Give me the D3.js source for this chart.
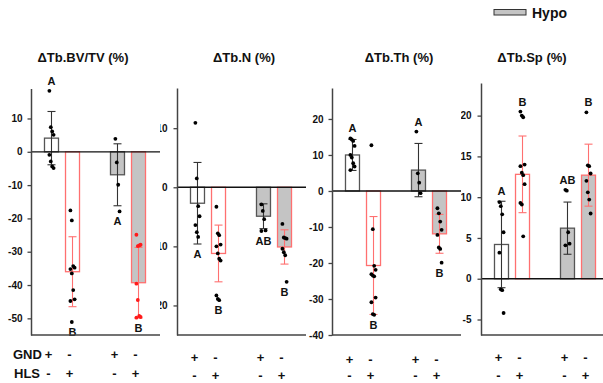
<!DOCTYPE html>
<html>
<head>
<meta charset="utf-8">
<script src="https://cdn.jsdelivr.net/npm/d3@7"></script>
<style>
  body { margin: 0; background: #fff; }
  svg { display: block; }
  text { font-family: "Liberation Sans", Arial, sans-serif; font-weight: bold; fill: #111; }
</style>
</head>
<body>
<script>
// groups: normoxia / hypoxia, each with GND+ and HLS
var oxygen = ["Normo", "Normo", "Hypo", "Hypo"];
var cond = ["GND", "HLS", "GND", "HLS"];
var gndSigns = ["+", "-", "+", "-"];
var hlsSigns = ["-", "+", "-", "+"];
var titles = ["\u0394Tb.BV/TV (%)", "\u0394Tb.N (%)", "\u0394Tb.Th (%)", "\u0394Tb.Sp (%)"];

// ΔTb.BV/TV
var bvtvMean = [4.1, -36.0, -6.9, -39.3];
var bvtvSd = [8.0, 10.5, 9.3, 10.6];
var bvtvPts = [
  [18.3, 7.4, 6.1, 5.1, -0.9, -2.9, -4.4, -4.9],
  [-17.6, -20.6, -34.3, -34.8, -35.2, -36.5, -41.5, -44.3, -44.8, -51.1],
  [3.9, -3.2, -9.9, -17.9],
  [-24.9, -28.3, -28.1, -27.9, -39.6, -44.5, -49.3, -49.6, -49.8]
];
var bvtvLetters = ["A", "B", "A", "B"];
var bvtvDomain = [-55, 19];
var bvtvTicks = [-50, -40, -30, -20, -10, 0, 10];

// ΔTb.N
var nMean = [-2.7, -11.2, -4.9, -10.1];
var nSd = [6.9, 4.8, 2.1, 2.9];
var nPts = [
  [10.9, 1.5, -3.2, -4.9, -6.4, -7.6, -8.4],
  [-3.3, -7.8, -8.1, -9.7, -10.0, -11.2, -12.1, -12.4, -18.3, -18.9, -19.1],
  [-2.9, -4.0, -5.4, -7.3, -7.4],
  [-6.2, -8.5, -8.6, -8.7, -10.4, -11.0, -11.5, -16.0]
];
var nLetters = ["A", "B", "AB", "B"];
var nDomain = [-25, 16.8];
var nTicks = [-20, -10, 0, 10];

// ΔTb.Th
var thMean = [10.0, -20.7, 5.8, -11.9];
var thSd = [4.3, 13.6, 7.4, 5.4];
var thPts = [
  [14.6, 14.3, 13.9, 12.5, 10.0, 9.3, 7.7, 6.8, 5.8],
  [12.7, -10.6, -20.8, -21.9, -23.1, -23.5, -23.7, -29.6, -30.9, -34.2, -34.4],
  [16.5, 4.9, 2.3, -0.6],
  [-4.8, -6.2, -8.5, -10.8, -12.2, -15.7, -16.1, -19.9]
];
var thLetters = ["A", "B", "A", "B"];
var thDomain = [-40, 28.6];
var thTicks = [-40, -30, -20, -10, 0, 10, 20];

// ΔTb.Sp
var spMean = [4.2, 12.8, 6.2, 12.7];
var spSd = [5.3, 4.7, 3.2, 3.8];
var spPts = [
  [9.4, 8.9, 7.9, 5.7, 3.2, -1.3, -1.4, -4.2],
  [20.5, 20.0, 19.8, 14.0, 13.8, 13.0, 12.7, 11.6, 9.3, 9.1, 5.2],
  [10.9, 10.8, 5.7, 4.3, 4.1],
  [20.4, 13.9, 13.8, 12.9, 12.0, 10.6, 9.7, 8.0]
];
var spLetters = ["A", "B", "AB", "B"];
var spDomain = [-6.9, 24];
var spTicks = [-5, 0, 5, 10, 15, 20];

var panels = [
  {mean: bvtvMean, sd: bvtvSd, pts: bvtvPts, letters: bvtvLetters, domain: bvtvDomain, ticks: bvtvTicks},
  {mean: nMean, sd: nSd, pts: nPts, letters: nLetters, domain: nDomain, ticks: nTicks},
  {mean: thMean, sd: thSd, pts: thPts, letters: thLetters, domain: thDomain, ticks: thTicks},
  {mean: spMean, sd: spSd, pts: spPts, letters: spLetters, domain: spDomain, ticks: spTicks}
];

// each panel is a cropped picture, the next one is pasted over the previous
var layout = [
  {axisX: 31, clipL: 0, clipR: 160, top: 88.5, pad: 5, titleX: 83, rowY: [354, 373]},
  {axisX: 177, clipL: 160, clipR: 306, top: 88, pad: 6, titleX: 244, rowY: [357, 375]},
  {axisX: 332, clipL: 306, clipR: 461, top: 88, pad: 5, titleX: 399, rowY: [359, 375]},
  {axisX: 481, clipL: 461, clipR: 603, top: 83, pad: 6, titleX: 532, rowY: [357, 375]}
];

var width = 603, height = 383, bottom = 335, barW = 14;
var red = "#ff7070", grayFill = "#c4c4c4";

var svg = d3.select("body").append("svg")
  .attr("width", width)
  .attr("height", height);

panels.forEach(function(p, k) {
  var L = layout[k];

  svg.append("clipPath").attr("id", "clip" + k)
    .append("rect")
    .attr("x", L.clipL).attr("y", 0)
    .attr("width", L.clipR - L.clipL).attr("height", height);

  var g = svg.append("g").attr("clip-path", "url(#clip" + k + ")");

  var y = d3.scaleLinear().domain(p.domain).range([bottom, L.top]);

  var outer = d3.scaleBand().domain(["Normo", "Hypo"])
    .range([L.axisX - 2, L.axisX + 130]);
  var inner = d3.scalePoint().domain(["GND", "HLS"])
    .range([0, outer.bandwidth()]).padding(1.07);
  var xc = function(i) { return outer(oxygen[i]) + inner(cond[i]); };

  // title
  g.append("text")
    .attr("x", L.titleX).attr("y", 62)
    .attr("text-anchor", "middle")
    .style("font-size", "13px")
    .text(titles[k]);

  // bars
  g.selectAll("rect.bar")
    .data(p.mean)
    .enter().append("rect")
    .attr("class", "bar")
    .attr("x", function(d, i) { return xc(i) - barW / 2; })
    .attr("width", barW)
    .attr("y", function(d) { return Math.min(y(0), y(d)); })
    .attr("height", function(d) { return Math.abs(y(d) - y(0)); })
    .attr("fill", function(d, i) { return oxygen[i] == "Hypo" ? grayFill : "#fff"; })
    .attr("stroke", function(d, i) { return cond[i] == "HLS" ? red : "#555"; })
    .attr("stroke-width", 1.3);

  // error bars
  p.mean.forEach(function(m, i) {
    var col = cond[i] == "HLS" ? red : "#333";
    var eb = g.append("g").attr("stroke", col).attr("stroke-width", 1.1);
    var x0 = xc(i);
    eb.append("line").attr("x1", x0).attr("x2", x0)
      .attr("y1", y(m + p.sd[i])).attr("y2", y(m - p.sd[i]));
    [m + p.sd[i], m - p.sd[i]].forEach(function(v) {
      eb.append("line").attr("x1", x0 - 4).attr("x2", x0 + 4)
        .attr("y1", y(v)).attr("y2", y(v));
    });
  });

  // individual animals
  p.pts.forEach(function(arr, i) {
    var dotCol = (k == 0 && i == 3) ? "#ff1a1a" : "#000";
    g.selectAll(null)
      .data(arr)
      .enter().append("circle")
      .attr("cx", function(d, j) { return xc(i) + ((j % 4) - 1.5) * 1.4; })
      .attr("cy", function(d) { return y(d); })
      .attr("r", 1.9)
      .attr("fill", dotCol);
  });

  // significance letters
  p.letters.forEach(function(t, i) {
    var hi = d3.max(p.pts[i].concat([p.mean[i] + p.sd[i]]));
    var lo = d3.min(p.pts[i].concat([p.mean[i] - p.sd[i]]));
    var above = p.mean[i] >= 0;
    g.append("text")
      .attr("x", xc(i))
      .attr("y", above ? y(hi) - 10 : y(lo) + 10)
      .attr("dy", "0.36em")
      .attr("text-anchor", "middle")
      .style("font-size", "11px")
      .text(t);
  });

  // zero line and frame
  g.append("line")
    .attr("x1", L.axisX).attr("x2", L.clipR)
    .attr("y1", y(0)).attr("y2", y(0))
    .attr("stroke", "#111").attr("stroke-width", 1.3);
  g.append("line")
    .attr("x1", L.axisX).attr("x2", L.clipR)
    .attr("y1", bottom).attr("y2", bottom)
    .attr("stroke", "#444").attr("stroke-width", 1.5);

  var step = p.ticks[1] - p.ticks[0];
  var minor = d3.range(p.ticks[0] - step / 2, p.domain[1], step)
    .filter(function(v) { return v >= p.domain[0] && v <= p.domain[1]; });

  var axG = g.append("g").attr("transform", "translate(" + L.axisX + ",0)");
  axG.call(d3.axisLeft(y).tickValues(minor).tickSize(2).tickSizeOuter(0).tickFormat(""));
  axG.call(d3.axisLeft(y).tickValues(p.ticks).tickSize(3.5).tickSizeOuter(0)
    .tickPadding(L.pad).tickFormat(function(d) { return String(d); }));
  axG.selectAll("path, line").attr("stroke", "#444").attr("stroke-width", 1.3);
  axG.select(".domain").attr("stroke-width", 1.5);
  axG.selectAll("text")
    .style("font-family", "'Liberation Sans', Arial, sans-serif")
    .style("font-weight", "bold")
    .style("font-size", "10px")
    .attr("fill", "#111");

  // GND / HLS sign rows
  [gndSigns, hlsSigns].forEach(function(signs, r) {
    g.selectAll(null)
      .data(signs)
      .enter().append("text")
      .attr("x", function(d, i) { return xc(i) - 3; })
      .attr("y", L.rowY[r])
      .attr("dy", "0.36em")
      .attr("text-anchor", "middle")
      .style("font-size", "13px")
      .text(function(d) { return d; });
  });
  if (k == 0) {
    g.append("text").attr("x", 13).attr("y", L.rowY[0]).attr("dy", "0.36em")
      .style("font-size", "13px").text("GND");
    g.append("text").attr("x", 14).attr("y", L.rowY[1]).attr("dy", "0.36em")
      .style("font-size", "13px").text("HLS");
  }
});

// legend (only the hypoxia entry is inside the crop)
svg.append("rect")
  .attr("x", 494).attr("y", 9.5).attr("width", 32).attr("height", 5.5)
  .attr("fill", grayFill).attr("stroke", "#333").attr("stroke-width", 1);
svg.append("text")
  .attr("x", 532).attr("y", 18)
  .style("font-size", "14px")
  .text("Hypo");
</script>
</body>
</html>
